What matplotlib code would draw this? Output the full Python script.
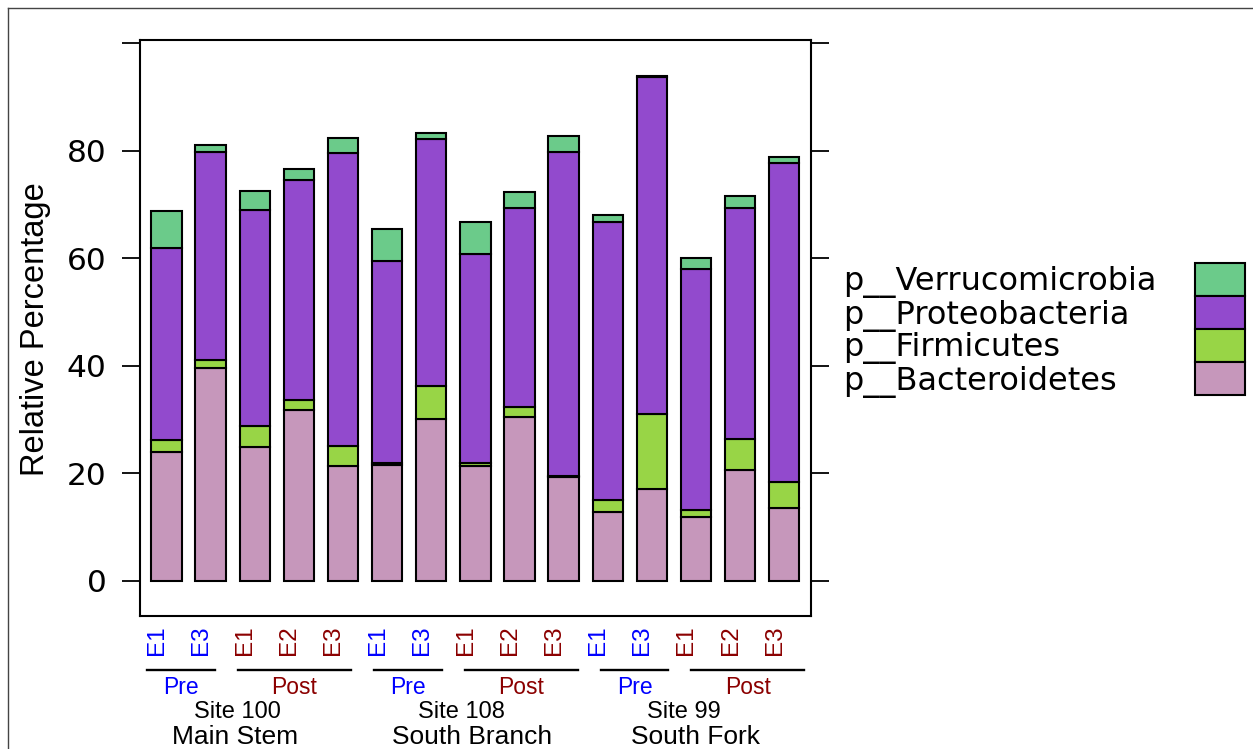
import matplotlib
matplotlib.use('Agg')
import matplotlib.pyplot as plt
import matplotlib.transforms as mtransforms
from matplotlib.patches import Rectangle
from matplotlib.lines import Line2D
import numpy as np

# relative abundance per sample (percent), three sites x pre/post events
sites = ['Site 100', 'Site 108', 'Site 99']
site_names = ['Main Stem', 'South Branch', 'South Fork']
events = ['E1', 'E3', 'E1', 'E2', 'E3',
          'E1', 'E3', 'E1', 'E2', 'E3',
          'E1', 'E3', 'E1', 'E2', 'E3']
period = ['Pre', 'Pre', 'Post', 'Post', 'Post',
          'Pre', 'Pre', 'Post', 'Post', 'Post',
          'Pre', 'Pre', 'Post', 'Post', 'Post']

bacteroidetes = [23.9, 39.5, 24.8, 31.8, 21.3, 21.5, 30.0, 21.3, 30.4, 19.3, 12.7, 17.0, 11.9, 20.6, 13.5]
firmicutes = [2.2, 1.5, 4.0, 1.8, 3.8, 0.5, 6.2, 0.7, 2.0, 0.1, 2.3, 14.1, 1.2, 5.7, 4.8]
proteobacteria = [35.8, 38.8, 40.1, 40.9, 54.5, 37.5, 46.0, 38.8, 36.9, 60.4, 51.7, 62.6, 44.9, 43.0, 59.5]
verrucomicrobia = [6.9, 1.2, 3.6, 2.1, 2.8, 5.9, 1.1, 5.9, 3.1, 2.9, 1.4, 0.2, 2.1, 2.2, 1.0]

phyla = ['p__Bacteroidetes', 'p__Firmicutes', 'p__Proteobacteria', 'p__Verrucomicrobia']
colors = ['#C697BB', '#98D546', '#924ACD', '#6BCB8A']
period_col = {'Pre': '#0000FF', 'Post': '#8B0000'}

W, H = 1253, 749
fig = plt.figure(figsize=(W / 100, H / 100), dpi=100)
# pixel coordinates from the top-left corner
px = mtransforms.Affine2D().scale(1 / W, -1 / H).translate(0, 1) + fig.transFigure

ax = fig.add_axes([140 / W, 1 - 615.7 / H, 670.7 / W, 575.7 / H])
x = np.arange(1, len(events) + 1)
bottom = np.zeros(len(x))
for vals, col in zip([bacteroidetes, firmicutes, proteobacteria, verrucomicrobia], colors):
    ax.bar(x, vals, 0.69, bottom=bottom, color=col, edgecolor='black', linewidth=1.5)
    bottom += np.array(vals)

ax.set_xlim(0.4, 15.6)
ax.set_ylim(-6.5, 100.6)
ax.set_xticks([])
ax.set_yticks([0, 20, 40, 60, 80, 100])
ax.set_yticklabels(['0', '20', '40', '60', '80', ''], fontsize=22.5, family='DejaVu Sans')
ax.tick_params(axis='y', direction='out', length=13, width=1.3, pad=11, left=True, right=True)
for s in ax.spines.values():
    s.set_linewidth(1.5)

fig.text(36 / W, 1 - 329 / H, 'Relative Percentage', rotation=90, ha='center', va='center',
         fontsize=23.5, family='Liberation Sans')

# sample labels under the panel
lab = mtransforms.blended_transform_factory(ax.transData, px)
for xi, ev, pr in zip(x, events, period):
    fig.text(xi - 0.215, 625.5, ev, rotation=90, ha='center', va='top', transform=lab,
             fontsize=17.5, family='Liberation Sans', color=period_col[pr])

# brackets for pre/post groups
groups = []
start = 0
for i in range(1, len(period) + 1):
    if i == len(period) or period[i] != period[start] or (i % 5 == 0):
        groups.append((start, i - 1, period[start]))
        start = i
for first, last, pr in groups:
    x0 = 1.0278 * first + 1 - 0.44
    x1 = 1.0278 * last + 1 + 0.07
    fig.add_artist(Line2D([x0, x1], [670, 670], transform=lab, color='black', linewidth=1.7))
    fig.text((x0 + x1) / 2, 694.3, pr, ha='center', va='baseline', transform=lab,
             fontsize=16.5, family='Liberation Sans', color=period_col[pr])

site_x = [2.6, 7.69, 12.72]
name_x = [2.55, 7.92, 13.0]
for sx, nx, s, n in zip(site_x, name_x, sites, site_names):
    fig.text(sx, 718.5, s, ha='center', va='baseline', transform=lab, fontsize=17,
             family='Liberation Sans')
    fig.text(nx, 744.5, n, ha='center', va='baseline', transform=lab, fontsize=19,
             family='Liberation Sans')

# key on the right, top entry first
for k, (name, col) in enumerate(zip(phyla[::-1], colors[::-1])):
    y0 = 263 + 33 * k
    fig.add_artist(Rectangle((1195, y0 + 33), 50, -33, transform=px, facecolor=col,
                             edgecolor='black', linewidth=1.5))
    fig.text(843, y0 + 16.5 + 11, name, ha='left', va='baseline', transform=px,
             fontsize=23, family='DejaVu Sans')

# outer frame
fig.add_artist(Line2D([8, W], [8, 8], transform=px, color='#444444', linewidth=1))
fig.add_artist(Line2D([8, 8], [8, H], transform=px, color='#444444', linewidth=1))

fig.savefig('out.png', dpi=100)
